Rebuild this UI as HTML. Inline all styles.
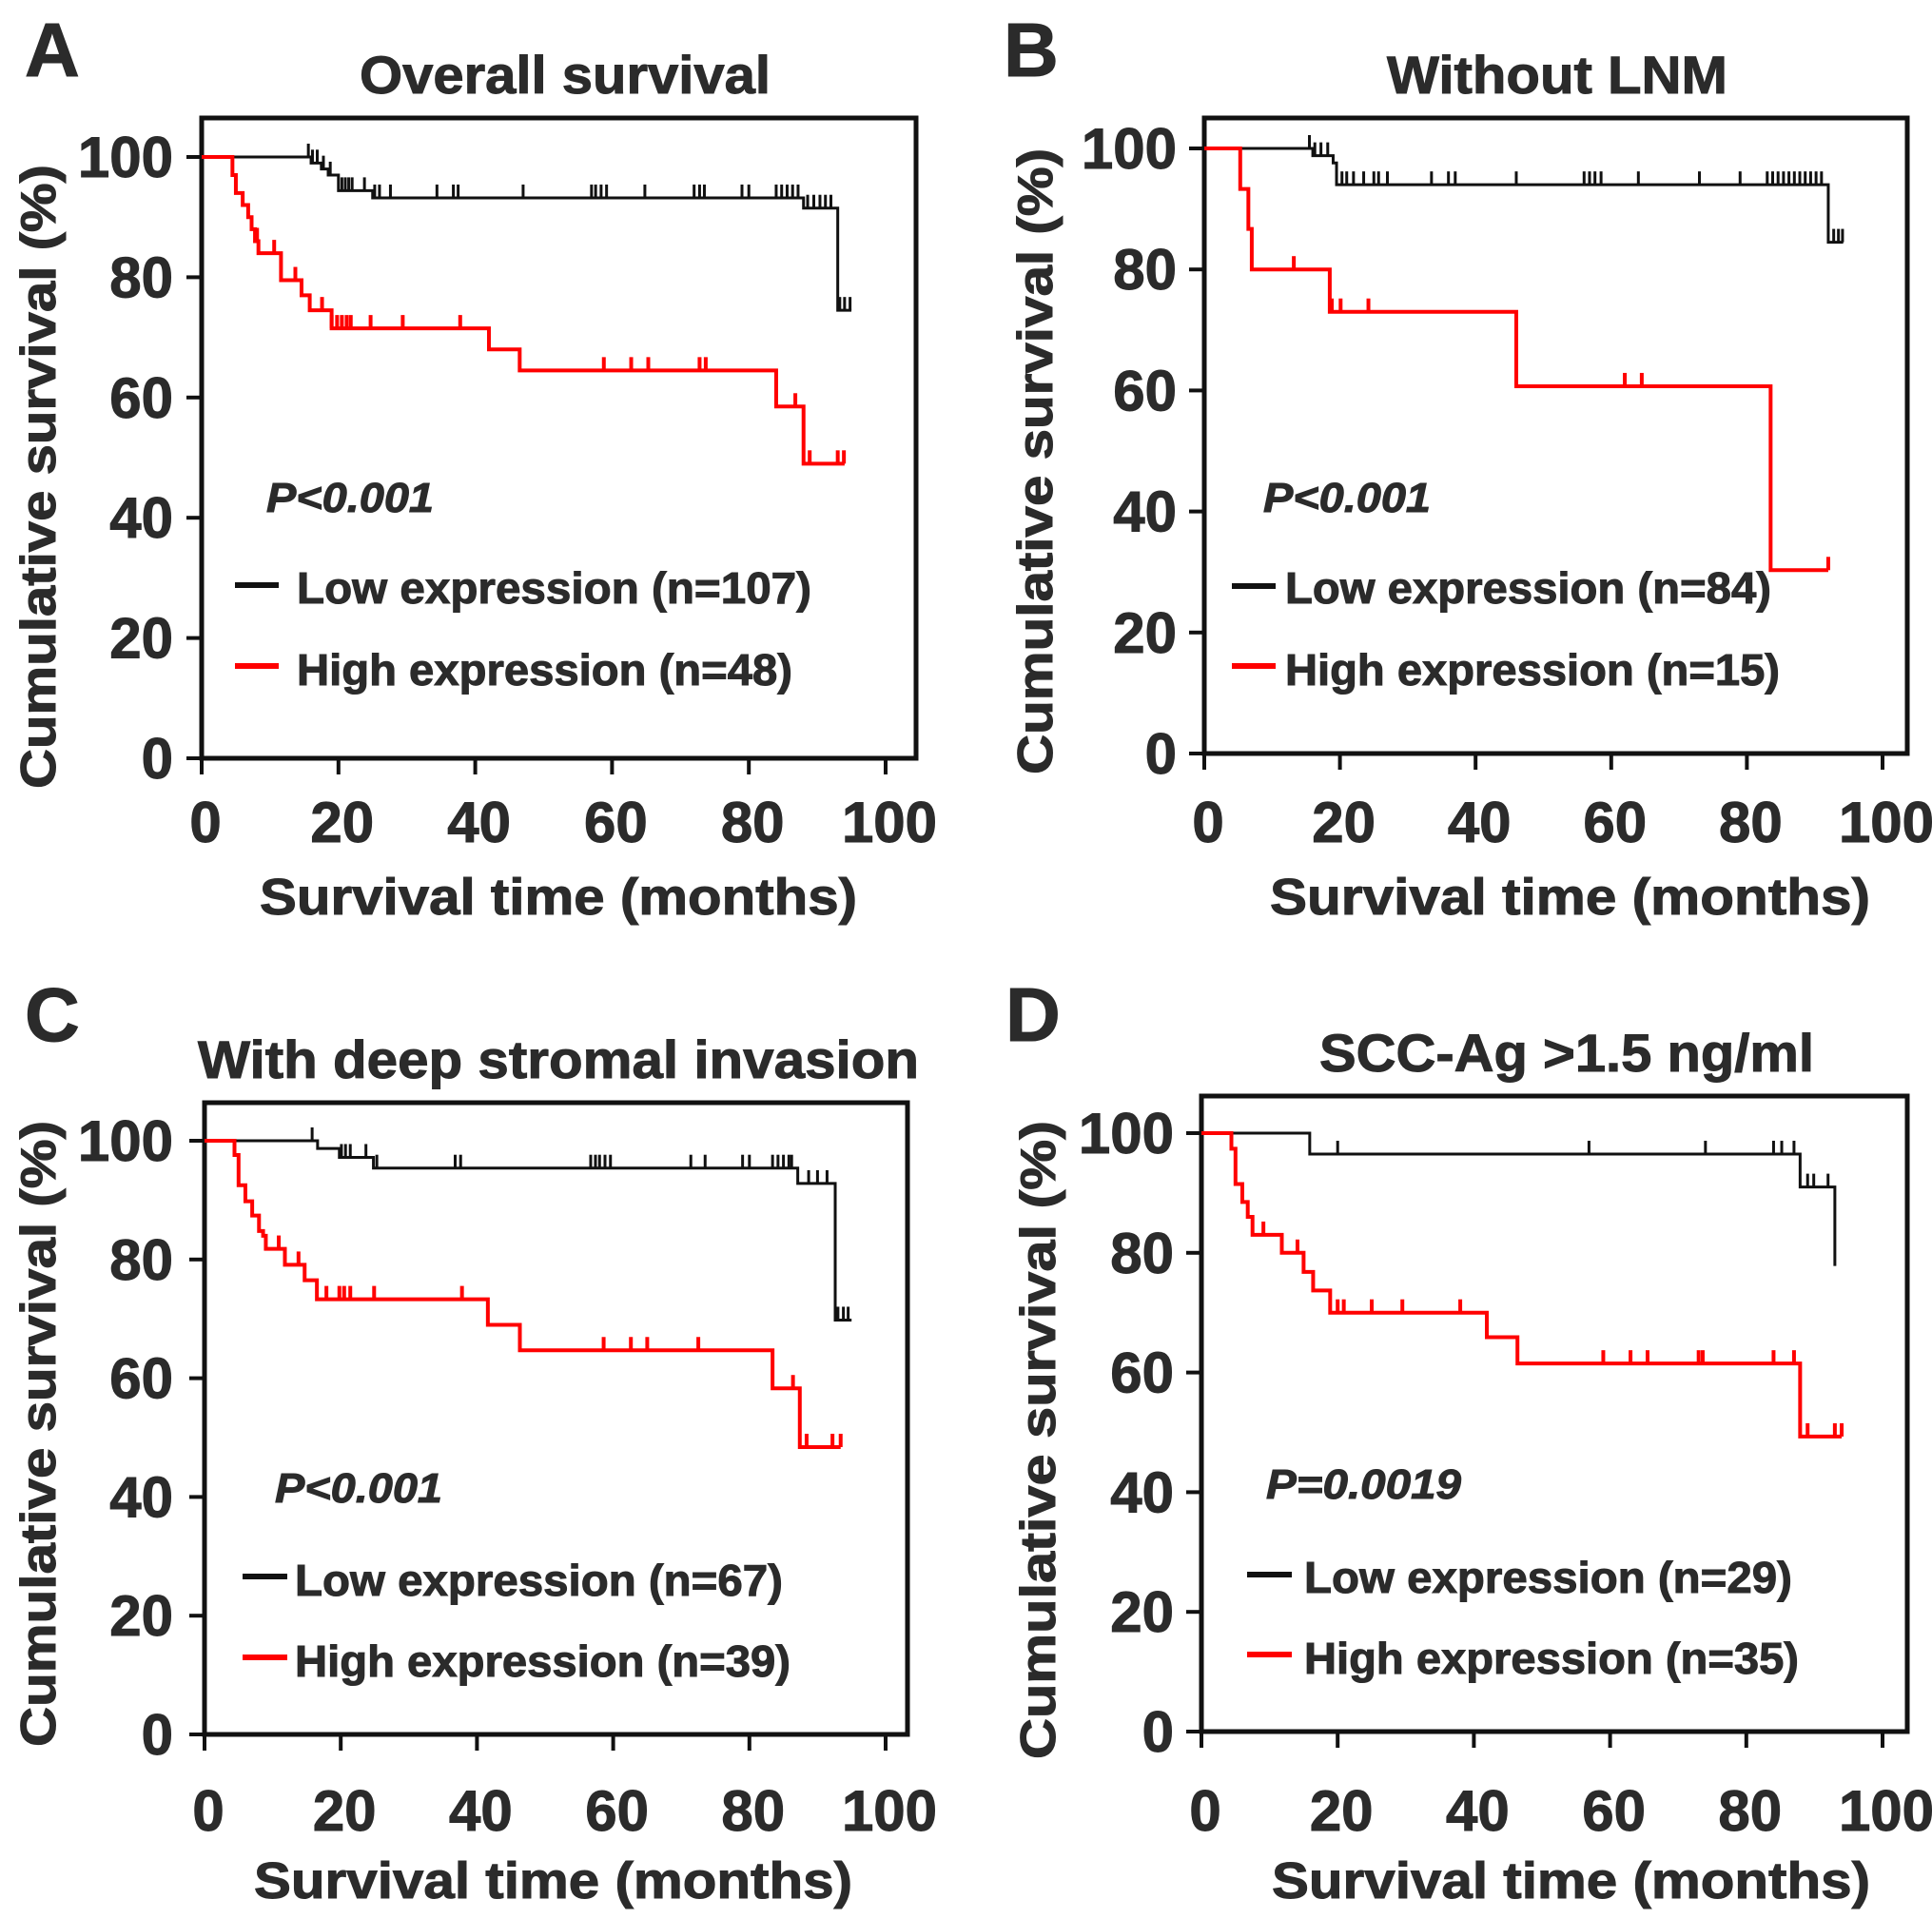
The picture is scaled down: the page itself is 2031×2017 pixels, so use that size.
<!DOCTYPE html>
<html><head><meta charset="utf-8"><style>
html,body{margin:0;padding:0;background:#fff;}
svg{display:block;}
text{font-family:"Liberation Sans",Arial,sans-serif;font-weight:bold;fill:#2b2b2b;stroke:#2b2b2b;stroke-width:1;}
</style></head><body>
<svg id="fig" width="2031" height="2017" viewBox="0 0 2031 2017" xmlns="http://www.w3.org/2000/svg"></svg>
<script>
// ---- Data (months, survival %) ----
const xTicks = [0,20,40,60,80,100];
const yTicks = [0,20,40,60,80,100];

// Panel A
const aLowSteps = [[0,100],[16,99],[17.5,98],[18.5,97],[20,94.4],[25,93.2],[88,91.5],[93,74.5]];
const aLowEnd = 95;
const aLowCens = [15.6,16.2,16.9,17.8,18.8,20.5,21,21.5,22,23.8,25.3,26,27.6,34.4,36.8,37.5,47,57,57.6,58.4,59.2,64.8,72,72.8,73.5,79,80,84,84.8,85.6,86.4,87.2,88.6,89.5,90.4,91.2,92,93.3,94,94.8];
const aHighSteps = [[0,100],[4.5,97],[5,94],[6,92],[6.8,90],[7.3,88],[7.8,86],[8.3,84],[11.6,79.5],[14.6,77],[15.8,74.5],[19,71.5],[42,68],[46.5,64.5],[84,58.5],[88,49]];
const aHighEnd = 94;
const aHighCens = [8.1,10.6,13.7,17.6,19,19.8,20.5,21.2,21.8,24.7,29.4,37.8,58.8,62.8,65.3,72.8,73.7,86.8,88.9,93,93.9];

// Panel B
const bLowSteps = [[0,100],[16,98.8],[19,97.6],[19.5,94],[92,84.5]];
const bLowEnd = 94.2;
const bLowCens = [15.5,16.3,17.2,18.2,20.3,21,22,23.5,25,25.7,27,33.5,36,37,46,56,56.8,57.6,58.5,64,73,79,83,83.8,84.6,85.4,86.2,87,87.8,88.6,89.4,90.2,91,92.8,93.5,94.1];
const bHighSteps = [[0,100],[5.3,93.3],[6.5,86.7],[7,80],[18.5,73],[46,60.7],[83.5,30.3]];
const bHighEnd = 92;
const bHighCens = [13.2,18.8,20.1,24.2,62,64.5,92];

// Panel C
const cLowSteps = [[0,100],[16.6,98.7],[19.8,97.2],[24.8,95.4],[87.1,92.8],[92.6,69.8]];
const cLowEnd = 95;
const cLowCens = [15.8,20.1,20.7,21.4,23.7,25.3,36.8,37.6,56.7,57.4,58,58.8,59.6,71.4,73.5,79,80,83.4,84.2,85,85.8,86.2,88.7,90,91.4,93,93.8,94.5];
const cHighSteps = [[0,100],[4.4,97.6],[5,92.5],[6,89.8],[7,87.4],[8,84.8],[8.6,84],[9,81.8],[11.8,79.1],[14.7,76.5],[16.5,73.3],[41.6,69],[46.3,64.7],[83.4,58.3],[87.4,48.4]];
const cHighEnd = 93.4;
const cHighCens = [10.9,13.8,17.9,19.8,20.5,21.4,24.9,37.8,58.6,62.6,65,72.5,86.4,88.4,92.2,93.4];

// Panel D
const dLowSteps = [[0,100],[15.9,96.5],[87.9,91],[93,77.8]];
const dLowEnd = 93;
const dLowCens = [20,56.9,74,84,85.2,87,89,89.9,92];
const dHighSteps = [[0,100],[4.4,97.4],[5,91.5],[6,88.5],[6.8,86],[7.5,83],[11.8,80],[15,76.8],[16.4,73.7],[18.9,70],[41.9,65.9],[46.4,61.5],[87.9,49.3]];
const dHighEnd = 94;
const dHighCens = [9.1,14.1,20,20.9,25,29.5,38,59,63,65.5,73,73.6,84,87,89,93,94];

// ---- Layout ----
const NS = "http://www.w3.org/2000/svg";
const svg = document.getElementById('fig');
function mk(tag, attrs, parent){
  const e = document.createElementNS(NS, tag);
  for (const k in attrs) e.setAttribute(k, attrs[k]);
  (parent||svg).appendChild(e);
  return e;
}
function txt(str, attrs, parent){ const t = mk('text', attrs, parent); t.textContent = str; return t; }

const panels = [
 {id:'a', letter:'A', title:'Overall survival', P:'P<0.001',
  low:[aLowSteps,aLowEnd,aLowCens], high:[aHighSteps,aHighEnd,aHighCens],
  lowLbl:'Low expression (n=107)', highLbl:'High expression (n=48)',
  box:[212,963,124,797], x0:212, x100:931, y0:797, y100:165,
  letterPos:[26,80], titlePos:[378,98,432], yTitle:[58,173,656], yLblR:182, xLblY:885,
  xTitle:[273,961,628], pPos:[280,538,176],
  leg:[247,293,615,700,312,634,720,541,521]},
 {id:'b', letter:'B', title:'Without LNM', P:'P<0.001',
  low:[bLowSteps,bLowEnd,bLowCens], high:[bHighSteps,bHighEnd,bHighCens],
  lowLbl:'Low expression (n=84)', highLbl:'High expression (n=15)',
  box:[1266,2005,124,792], x0:1266, x100:1979, y0:792, y100:156,
  letterPos:[1055,80], titlePos:[1458,98,358], yTitle:[1106,156,658], yLblR:1237, xLblY:885,
  xTitle:[1335,961,631], pPos:[1328,538,176],
  leg:[1295,1341,616,700,1351,634,720,511,520]},
 {id:'c', letter:'C', title:'With deep stromal invasion', P:'P<0.001',
  low:[cLowSteps,cLowEnd,cLowCens], high:[cHighSteps,cHighEnd,cHighCens],
  lowLbl:'Low expression (n=67)', highLbl:'High expression (n=39)',
  box:[215,954,1159,1823], x0:215, x100:931, y0:1823, y100:1199,
  letterPos:[26,1094], titlePos:[208,1133,758], yTitle:[58,1178,658], yLblR:182, xLblY:1924,
  xTitle:[267,1995,629], pPos:[289,1579,176],
  leg:[255,302,1657,1742,310,1677,1762,513,521]},
 {id:'d', letter:'D', title:'SCC-Ag >1.5 ng/ml', P:'P=0.0019',
  low:[dLowSteps,dLowEnd,dLowCens], high:[dHighSteps,dHighEnd,dHighCens],
  lowLbl:'Low expression (n=29)', highLbl:'High expression (n=35)',
  box:[1263,2005,1152,1820], x0:1263, x100:1979, y0:1820, y100:1191,
  letterPos:[1057,1094], titlePos:[1387,1126,520], yTitle:[1109,1178,671], yLblR:1234, xLblY:1924,
  xTitle:[1337,1995,629], pPos:[1331,1575,205],
  leg:[1311,1358,1655,1739,1371,1674,1759,513,520]}
];

function drawCurve(g, series, sx, sy, color, width, name){
  const steps = series[0], end = series[1], cens = series[2];
  let d = 'M' + sx(steps[0][0]) + ' ' + sy(steps[0][1]);
  for (let i = 1; i < steps.length; i++){
    d += ' H' + sx(steps[i][0]) + ' V' + sy(steps[i][1]);
  }
  d += ' H' + sx(end);
  const p = mk('path', {d:d, fill:'none', stroke:color, 'stroke-width':width}, g);
  
  
  function levelAt(t){ let v = steps[0][1]; for (const s of steps){ if (s[0] <= t) v = s[1]; } return v; }
  cens.forEach(function(t){
    const yy = sy(levelAt(t));
    const c = mk('line', {x1:sx(t), x2:sx(t), y1:yy, y2:yy-14, stroke:color, 'stroke-width':width}, g);
    
    
  });
}

panels.forEach(function(P){
  const g = mk('g', {});
  
  
  const sx = v => P.x0 + (P.x100 - P.x0) * v / 100;
  const sy = v => P.y0 + (P.y100 - P.y0) * v / 100;
  const b = P.box;

  const L = txt(P.letter, {x:P.letterPos[0], y:P.letterPos[1], 'font-size':80, fill:'#111', stroke:'#111'}, g);
  
  
  const T = txt(P.title, {x:P.titlePos[0], y:P.titlePos[1], 'font-size':56, textLength:P.titlePos[2], lengthAdjust:'spacingAndGlyphs'}, g);
  
  

  const fr = mk('rect', {x:b[0], y:b[2], width:b[1]-b[0], height:b[3]-b[2], fill:'none', stroke:'#111', 'stroke-width':5}, g);
  
  

  yTicks.forEach(function(v){
    const tl = mk('line', {x1:b[0]-16, x2:b[0], y1:sy(v), y2:sy(v), stroke:'#111', 'stroke-width':4}, g);
    
    
    const lb = txt(String(v), {x:P.yLblR, y:sy(v)+21, 'font-size':60, 'text-anchor':'end'}, g);
    
    
  });
  xTicks.forEach(function(v){
    const tl = mk('line', {x1:sx(v), x2:sx(v), y1:b[3], y2:b[3]+17, stroke:'#111', 'stroke-width':4}, g);
    
    
    const lb = txt(String(v), {x:sx(v)+4, y:P.xLblY, 'font-size':60, 'text-anchor':'middle'}, g);
    
    
  });

  const yt = txt('Cumulative survival (%)', {x:0, y:0, 'font-size':52, textLength:P.yTitle[2], lengthAdjust:'spacingAndGlyphs',
    transform:'translate(' + P.yTitle[0] + ',' + (P.yTitle[1]+P.yTitle[2]) + ') rotate(-90)'}, g);
  
  
  const xt = txt('Survival time (months)', {x:P.xTitle[0], y:P.xTitle[1], 'font-size':54, textLength:P.xTitle[2], lengthAdjust:'spacingAndGlyphs'}, g);
  
  

  const pv = txt(P.P, {x:P.pPos[0], y:P.pPos[1], 'font-size':44, 'font-style':'italic', textLength:P.pPos[2], lengthAdjust:'spacingAndGlyphs'}, g);
  
  

  drawCurve(g, P.low, sx, sy, '#111', 3, 'low-expression');
  drawCurve(g, P.high, sx, sy, '#ff0000', 4, 'high-expression');

  const lg = P.leg;
  const l1 = mk('line', {x1:lg[0], x2:lg[1], y1:lg[2], y2:lg[2], stroke:'#111', 'stroke-width':6}, g);
  
  
  const l2 = mk('line', {x1:lg[0], x2:lg[1], y1:lg[3], y2:lg[3], stroke:'#ff0000', 'stroke-width':6}, g);
  
  
  const t1 = txt(P.lowLbl, {x:lg[4], y:lg[5], 'font-size':46, textLength:lg[7], lengthAdjust:'spacingAndGlyphs'}, g);
  
  
  const t2 = txt(P.highLbl, {x:lg[4], y:lg[6], 'font-size':46, textLength:lg[8], lengthAdjust:'spacingAndGlyphs'}, g);
  
  
});
</script>
</body></html>
